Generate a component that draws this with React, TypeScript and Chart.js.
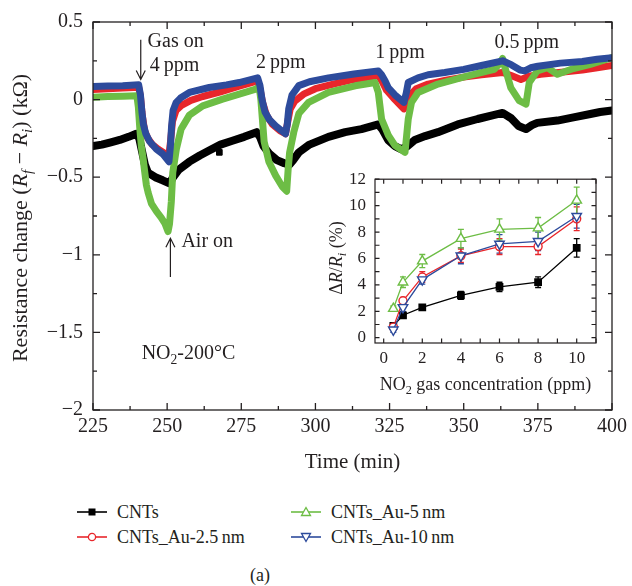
import React, { useEffect, useRef } from "react";
import { Chart, registerables } from "chart.js";

Chart.register(...registerables);

const FONT = '"Liberation Serif", "Times New Roman", Times, serif';
const TEXT = "#231f20";
const BLACK = "#000000";
const RED = "#e8262b";
const GREEN = "#6dbd45";
const BLUE = "#2d4b9c";

// ---------- main panel: time axis and resistance axis ----------
const timeTicks = [225, 250, 275, 300, 325, 350, 375, 400];
const resistanceTicks = [-2, -1.5, -1, -0.5, 0, 0.5];

// [time (min), resistance change (kΩ)]
const cntsSeries: [number, number][] = [
  [225, -0.3], [228, -0.29], [231, -0.275], [234, -0.26], [237, -0.24], [239.6, -0.22],
  [240.6, -0.25], [241.5, -0.33], [242.5, -0.42], [243.5, -0.47], [246, -0.5], [248.5, -0.52],
  [250.8, -0.54], [252, -0.5], [254, -0.45], [257.5, -0.4], [261, -0.36], [264, -0.33],
  [268, -0.29], [272, -0.265], [276, -0.24], [280.2, -0.21], [281.3, -0.24], [282.5, -0.3],
  [284.5, -0.35], [287, -0.39], [289.5, -0.41], [291.2, -0.42], [292.5, -0.39], [294.4, -0.34],
  [298, -0.29], [304.4, -0.24], [310, -0.21], [315.5, -0.19], [321.2, -0.16], [322.5, -0.19],
  [324.5, -0.26], [326.8, -0.3], [329, -0.32], [331, -0.3], [333.5, -0.26], [337, -0.235],
  [341.3, -0.21], [348, -0.16], [354.7, -0.125], [360, -0.1], [363.1, -0.086], [366, -0.12],
  [368.5, -0.17], [371, -0.19], [373, -0.165], [374.8, -0.15], [381.6, -0.135], [387, -0.115],
  [392.7, -0.093], [396, -0.08], [400, -0.07],
];
const cntsStray: [number, number][] = [[267.6, -0.34]];

const au25Series: [number, number][] = [
  [225, 0.065], [230, 0.07], [235, 0.075], [240.4, 0.08], [241, 0.02], [241.6, -0.1],
  [242.4, -0.2], [243.5, -0.25], [245, -0.29], [247, -0.32], [249.5, -0.35], [250.6, -0.36],
  [251.2, -0.26], [251.8, -0.14], [253, -0.07], [255, -0.035], [258, -0.005], [262, 0.02],
  [268, 0.05], [274, 0.085], [280.5, 0.12], [281.3, 0.07], [282.2, -0.02], [283.5, -0.1],
  [285.5, -0.16], [288, -0.2], [289.9, -0.22], [290.6, -0.15], [291.5, -0.06], [293, -0.01],
  [296, 0.035], [300, 0.07], [306, 0.1], [313, 0.13], [321.2, 0.155], [322.4, 0.12],
  [324, 0.06], [326.8, 0.0], [329.8, -0.06], [330.8, -0.03], [332, 0.03], [334, 0.07],
  [338, 0.1], [344, 0.125], [350, 0.145], [356, 0.16], [363.1, 0.175], [366, 0.155],
  [369.3, 0.13], [372, 0.15], [375.9, 0.163], [382, 0.175], [390, 0.19], [395, 0.205],
  [400, 0.22],
];

const au5Series: [number, number][] = [
  [225, 0.015], [230, 0.02], [235, 0.022], [239.8, 0.025], [240.3, -0.05], [240.8, -0.19],
  [241.3, -0.3], [241.9, -0.38], [242.4, -0.46], [243, -0.55], [243.6, -0.6], [244.7, -0.67],
  [246.4, -0.72], [248, -0.76], [249.3, -0.8], [250.3, -0.85], [250.8, -0.8], [251.4, -0.66],
  [251.9, -0.47], [253.1, -0.32], [254.7, -0.19], [257.5, -0.1], [262, -0.04], [268.7, 0.003],
  [274.3, 0.035], [279.9, 0.067], [281, 0.085], [281.6, 0.0], [282.7, -0.27], [284.3, -0.4],
  [286.6, -0.49], [288.8, -0.56], [290.3, -0.59], [290.8, -0.45], [291.3, -0.34], [292.7, -0.21],
  [294.4, -0.09], [297.7, -0.018], [304.4, 0.046], [313.4, 0.089], [320.1, 0.11], [321.2, 0.046],
  [322.3, -0.125], [324.6, -0.23], [326.8, -0.295], [330.2, -0.34], [331.3, -0.125], [332.4, -0.018],
  [334.6, 0.046], [341.3, 0.1], [351.4, 0.153], [360.3, 0.195], [361.8, 0.225], [363.1, 0.265],
  [364, 0.2], [365.9, 0.075], [368.7, -0.007], [371, -0.029], [372.1, 0.11], [374.8, 0.185],
  [378.2, 0.206], [381.6, 0.163], [387, 0.2], [392.7, 0.227], [400, 0.27],
];

const au10Series: [number, number][] = [
  [225, 0.085], [230, 0.088], [235, 0.09], [240.4, 0.095], [241, 0.03], [241.5, -0.08],
  [242, -0.16], [242.8, -0.22], [244.1, -0.27], [246.4, -0.32], [248.5, -0.35], [250.6, -0.4],
  [251.1, -0.3], [251.5, -0.17], [252, -0.07], [253, -0.02], [254.5, 0.01], [257.5, 0.046],
  [264.2, 0.078], [270, 0.095], [274.3, 0.11], [280.5, 0.14], [281.3, 0.09], [282, 0.0],
  [283, -0.08], [284.5, -0.13], [286.6, -0.17], [289.9, -0.22], [290.5, -0.16], [291, -0.06],
  [292.1, 0.03], [294.4, 0.09], [298, 0.115], [304.4, 0.14], [313, 0.165], [321.2, 0.185],
  [322.3, 0.16], [323.5, 0.12], [324.6, 0.075], [326.8, 0.03], [329.8, -0.018], [330.6, 0.04],
  [331.3, 0.11], [334.6, 0.14], [338, 0.16], [343.6, 0.175], [350, 0.195], [356, 0.22],
  [363.1, 0.25], [366, 0.225], [369, 0.19], [370.6, 0.185], [372.6, 0.205], [375, 0.215],
  [382.6, 0.235], [390, 0.245], [395, 0.26], [400, 0.27],
];

// ---------- inset: response vs concentration ----------
const concentrations = [0.5, 1, 2, 4, 6, 8, 10];
const cntsResponse = [0.9, 1.7, 2.3, 3.2, 3.85, 4.2, 6.8];
const cntsError = [0.15, 0.2, 0.2, 0.3, 0.35, 0.4, 0.7];
const au25Response = [0.8, 2.8, 4.6, 6.2, 6.9, 6.9, 9.0];
const au25Error = [0.2, 0.25, 0.4, 0.5, 0.6, 0.6, 0.9];
const au5Response = [2.2, 4.2, 5.8, 7.5, 8.2, 8.3, 10.4];
const au5Error = [0.2, 0.4, 0.5, 0.7, 0.8, 0.8, 1.0];
const au10Response = [0.6, 2.3, 4.4, 6.2, 7.1, 7.3, 9.2];
const au10Error = [0.2, 0.3, 0.35, 0.6, 0.7, 0.7, 0.9];
const insetXTicks = [0, 2, 4, 6, 8, 10];
const insetYTicks = [0, 2, 4, 6, 8, 10, 12];

const seriesLabels = ["CNTs", "CNTs_Au-2.5\u2009nm", "CNTs_Au-5\u2009nm", "CNTs_Au-10\u2009nm"];

// ---------- helpers ----------
type Seg = { t: string; it?: boolean; sub?: boolean };

function segFont(s: Seg, size: number) {
  const sz = s.sub ? size * 0.68 : size;
  return `${s.it ? "italic " : ""}${sz}px ${FONT}`;
}
function richWidth(ctx: CanvasRenderingContext2D, segs: Seg[], size: number) {
  let w = 0;
  for (const s of segs) {
    ctx.font = segFont(s, size);
    w += ctx.measureText(s.t).width;
  }
  return w;
}
function drawRich(ctx: CanvasRenderingContext2D, segs: Seg[], x: number, y: number, size: number, align: string) {
  const w = richWidth(ctx, segs, size);
  let cx = align === "center" ? x - w / 2 : x;
  ctx.textAlign = "left";
  ctx.textBaseline = "alphabetic";
  for (const s of segs) {
    ctx.font = segFont(s, size);
    ctx.fillText(s.t, cx, s.sub ? y + size * 0.22 : y);
    cx += ctx.measureText(s.t).width;
  }
}

const toXY = (s: [number, number][]) => s.map(([x, y]) => ({ x, y }));
const zipXY = (xs: number[], ys: number[]) => xs.map((x, i) => ({ x, y: ys[i] }));
const fmtTick = (v: number) => (v < 0 ? "\u2212" + Math.abs(v) : String(v));

const axisDecor = {
  id: "axisDecor",
  afterDraw(chart: any, _args: any, o: any) {
    const { ctx, chartArea: a } = chart;
    const xs = chart.scales.x;
    const ys = chart.scales.y;
    ctx.save();
    ctx.strokeStyle = TEXT;
    ctx.lineWidth = o.lineWidth;
    ctx.strokeRect(a.left, a.top, a.right - a.left, a.bottom - a.top);
    const isMajor = (arr: number[], v: number) => arr.some((m) => Math.abs(m - v) < 1e-6);
    ctx.beginPath();
    const x0 = Math.ceil(xs.min / o.xMinor - 1e-9) * o.xMinor;
    for (let i = 0; ; i++) {
      const v = x0 + i * o.xMinor;
      if (v > xs.max + 1e-9) break;
      const p = xs.getPixelForValue(v);
      const len = isMajor(o.xMajor, v) ? o.majorLen : o.minorLen;
      ctx.moveTo(p, a.bottom);
      ctx.lineTo(p, a.bottom - len);
      ctx.moveTo(p, a.top);
      ctx.lineTo(p, a.top + len);
    }
    const y0 = Math.ceil(ys.min / o.yMinor - 1e-9) * o.yMinor;
    for (let i = 0; ; i++) {
      const v = y0 + i * o.yMinor;
      if (v > ys.max + 1e-9) break;
      const p = ys.getPixelForValue(v);
      const len = isMajor(o.yMajor, v) ? o.majorLen : o.minorLen;
      ctx.moveTo(a.left, p);
      ctx.lineTo(a.left + len, p);
      ctx.moveTo(a.right, p);
      ctx.lineTo(a.right - len, p);
    }
    ctx.stroke();

    ctx.fillStyle = TEXT;
    for (const lab of o.labels || []) {
      let x = lab.x;
      let y = lab.y;
      if (lab.data) {
        x = xs.getPixelForValue(lab.x);
        y = ys.getPixelForValue(lab.y);
      } else if (lab.rel) {
        x = lab.rel === "xtitle" ? (a.left + a.right) / 2 : lab.x;
        y = lab.rel === "xtitle" ? a.bottom + lab.dy : lab.y;
      }
      if (lab.rot) {
        ctx.save();
        ctx.translate(x, y);
        ctx.rotate(-Math.PI / 2);
        drawRich(ctx, lab.segs, 0, 0, lab.size, "center");
        ctx.restore();
      } else {
        drawRich(ctx, lab.segs, x, y, lab.size, lab.align || "left");
      }
    }
    for (const ar of o.arrows || []) {
      const x1 = xs.getPixelForValue(ar.x);
      const yA = ys.getPixelForValue(ar.from);
      const yB = ys.getPixelForValue(ar.to);
      const dir = yB > yA ? 1 : -1;
      ctx.beginPath();
      ctx.lineWidth = 1.2;
      ctx.moveTo(x1, yA);
      ctx.lineTo(x1, yB);
      ctx.moveTo(x1 - 4.5, yB - dir * 9);
      ctx.lineTo(x1, yB);
      ctx.lineTo(x1 + 4.5, yB - dir * 9);
      ctx.stroke();
    }
    ctx.restore();
  },
};

const errorBars = {
  id: "errorBars",
  beforeDatasetsDraw(chart: any) {
    const { ctx } = chart;
    const xs = chart.scales.x;
    const ys = chart.scales.y;
    chart.data.datasets.forEach((ds: any) => {
      if (!ds.errors) return;
      ctx.save();
      ctx.strokeStyle = ds.borderColor;
      ctx.lineWidth = 1.3;
      ds.data.forEach((pt: any, i: number) => {
        const e = ds.errors[i];
        const px = xs.getPixelForValue(pt.x);
        const top = ys.getPixelForValue(pt.y + e);
        const bot = ys.getPixelForValue(pt.y - e);
        ctx.beginPath();
        ctx.moveTo(px, top);
        ctx.lineTo(px, bot);
        ctx.moveTo(px - 3, top);
        ctx.lineTo(px + 3, top);
        ctx.moveTo(px - 3, bot);
        ctx.lineTo(px + 3, bot);
        ctx.stroke();
      });
      ctx.restore();
    });
  },
};

function MainChart() {
  const ref = useRef<HTMLCanvasElement | null>(null);
  useEffect(() => {
    if (!ref.current) return;
    const band = (data: [number, number][], color: string, order: number, label: string, width: number) => ({
      label,
      data: toXY(data),
      borderColor: color,
      backgroundColor: color,
      borderWidth: width,
      pointRadius: 0,
      borderJoinStyle: "round" as const,
      borderCapStyle: "round" as const,
      tension: 0,
      order,
    });
    const chart = new Chart(ref.current, {
      type: "line",
      data: {
        datasets: [
          band(au10Series, BLUE, 0, seriesLabels[3], 7),
          band(au5Series, GREEN, 1, seriesLabels[2], 7),
          band(au25Series, RED, 2, seriesLabels[1], 7),
          band(cntsSeries, BLACK, 3, seriesLabels[0], 8),
          {
            label: "stray",
            data: toXY(cntsStray),
            showLine: false,
            pointStyle: "rect",
            pointRadius: 4,
            pointBackgroundColor: BLACK,
            pointBorderColor: BLACK,
            borderColor: BLACK,
            order: 4,
          } as any,
        ],
      },
      options: {
        animation: false,
        responsive: false,
        devicePixelRatio: 1,
        layout: { padding: { top: 19, right: 17, left: 0, bottom: 0 } },
        plugins: {
          legend: { display: false },
          tooltip: { enabled: false },
          axisDecor: {
            lineWidth: 1.3,
            xMajor: timeTicks,
            xMinor: 12.5,
            yMajor: resistanceTicks,
            yMinor: 0.25,
            majorLen: 7,
            minorLen: 4,
            labels: [
              { data: true, x: 243.4, y: 0.34, size: 20, segs: [{ t: "Gas on" }] },
              { data: true, x: 244.1, y: 0.187, size: 20, segs: [{ t: "4\u2009ppm" }] },
              { data: true, x: 280, y: 0.206, size: 20, segs: [{ t: "2\u2009ppm" }] },
              { data: true, x: 320.2, y: 0.27, size: 20, segs: [{ t: "1\u2009ppm" }] },
              { data: true, x: 360.4, y: 0.33, size: 20, segs: [{ t: "0.5\u2009ppm" }] },
              { data: true, x: 254.8, y: -0.95, size: 20, segs: [{ t: "Air on" }] },
              { data: true, x: 241.4, y: -1.674, size: 20, segs: [{ t: "NO" }, { t: "2", sub: true }, { t: "-200\u00b0C" }] },
              { rel: "xtitle", dy: 58, size: 21, align: "center", segs: [{ t: "Time (min)" }] },
              {
                x: 27,
                y: 218,
                rot: true,
                size: 22,
                segs: [
                  { t: "Resistance change (" },
                  { t: "R", it: true },
                  { t: "f", it: true, sub: true },
                  { t: " \u2212 " },
                  { t: "R", it: true },
                  { t: "i", it: true, sub: true },
                  { t: ") (k\u03a9)" },
                ],
              },
            ],
            arrows: [
              { x: 241.1, from: 0.385, to: 0.13 },
              { x: 251.1, from: -1.143, to: -0.894 },
            ],
          },
        } as any,
        scales: {
          x: {
            type: "linear",
            min: 225,
            max: 400,
            afterBuildTicks: (s: any) => {
              s.ticks = timeTicks.map((value) => ({ value }));
            },
            afterFit: (s: any) => {
              s.height = 70;
            },
            grid: { display: false, drawTicks: false },
            border: { display: false },
            ticks: { font: { family: FONT, size: 20 }, color: TEXT, padding: 5, maxRotation: 0, autoSkip: false },
          },
          y: {
            type: "linear",
            min: -2,
            max: 0.5,
            afterBuildTicks: (s: any) => {
              s.ticks = resistanceTicks.map((value) => ({ value }));
            },
            afterFit: (s: any) => {
              s.width = 93;
            },
            grid: { display: false, drawTicks: false },
            border: { display: false },
            ticks: {
              font: { family: FONT, size: 20 },
              color: TEXT,
              padding: 10,
              autoSkip: false,
              callback: (v: any) => fmtTick(Number(v)),
            },
          },
        },
      },
      plugins: [axisDecor],
    });
    return () => chart.destroy();
  }, []);
  return <canvas ref={ref} width={632} height={480} style={{ position: "absolute", left: 0, top: 0, width: 632, height: 480 }} />;
}

function InsetChart() {
  const ref = useRef<HTMLCanvasElement | null>(null);
  useEffect(() => {
    if (!ref.current) return;
    const series = (label: string, ys: number[], errs: number[], color: string, style: string, rot: number, r: number, fill: string, order: number) => ({
      label,
      data: zipXY(concentrations, ys),
      errors: errs,
      borderColor: color,
      backgroundColor: color,
      borderWidth: 1.3,
      pointStyle: style,
      pointRotation: rot,
      pointRadius: r,
      pointBorderWidth: 1.4,
      pointBackgroundColor: fill,
      pointBorderColor: color,
      tension: 0,
      order,
    });
    const chart = new Chart(ref.current, {
      type: "line",
      data: {
        datasets: [
          series(seriesLabels[3], au10Response, au10Error, BLUE, "triangle", 180, 5.5, "#ffffff", 0),
          series(seriesLabels[1], au25Response, au25Error, RED, "circle", 0, 4, "#ffffff", 1),
          series(seriesLabels[2], au5Response, au5Error, GREEN, "triangle", 0, 5.5, "#ffffff", 2),
          series(seriesLabels[0], cntsResponse, cntsError, BLACK, "rect", 0, 4.5, BLACK, 3),
        ] as any,
      },
      options: {
        animation: false,
        responsive: false,
        devicePixelRatio: 1,
        layout: { padding: { top: 13, right: 14, left: 0, bottom: 0 } },
        plugins: {
          legend: { display: false },
          tooltip: { enabled: false },
          axisDecor: {
            lineWidth: 1.2,
            xMajor: insetXTicks,
            xMinor: 1,
            yMajor: insetYTicks,
            yMinor: 1,
            majorLen: 4.5,
            minorLen: 4.5,
            labels: [
              { rel: "xtitle", dy: 47, size: 18, align: "center", segs: [{ t: "NO" }, { t: "2", sub: true }, { t: " gas concentration (ppm)" }] },
              {
                x: 22,
                y: 98,
                rot: true,
                size: 18,
                segs: [{ t: "\u0394" }, { t: "R", it: true }, { t: "/" }, { t: "R", it: true }, { t: "i", it: true, sub: true }, { t: " (%)" }],
              },
            ],
          },
        } as any,
        scales: {
          x: {
            type: "linear",
            min: -0.45,
            max: 11,
            afterBuildTicks: (s: any) => {
              s.ticks = insetXTicks.map((value) => ({ value }));
            },
            afterFit: (s: any) => {
              s.height = 57;
            },
            grid: { display: false, drawTicks: false },
            border: { display: false },
            ticks: { font: { family: FONT, size: 17 }, color: TEXT, padding: 5, maxRotation: 0, autoSkip: false },
          },
          y: {
            type: "linear",
            min: -0.4,
            max: 12,
            afterBuildTicks: (s: any) => {
              s.ticks = insetYTicks.map((value) => ({ value }));
            },
            afterFit: (s: any) => {
              s.width = 55;
            },
            grid: { display: false, drawTicks: false },
            border: { display: false },
            ticks: { font: { family: FONT, size: 17 }, color: TEXT, padding: 9, autoSkip: false },
          },
        },
      },
      plugins: [axisDecor, errorBars],
    });
    return () => chart.destroy();
  }, []);
  return <canvas ref={ref} width={290} height={240} style={{ position: "absolute", left: 320, top: 160, width: 290, height: 240 }} />;
}

function Marker({ kind, color }: { kind: string; color: string }) {
  let shape: React.ReactNode = null;
  if (kind === "rect") shape = <rect x={11.5} y={2.5} width={7} height={7} fill={color} />;
  if (kind === "circle") shape = <circle cx={15} cy={6} r={3.6} fill="#fff" stroke={color} strokeWidth={1.3} />;
  if (kind === "up") shape = <polygon points="15,1.5 19.5,9.5 10.5,9.5" fill="#fff" stroke={color} strokeWidth={1.3} />;
  if (kind === "down") shape = <polygon points="10.5,2.5 19.5,2.5 15,10.5" fill="#fff" stroke={color} strokeWidth={1.3} />;
  return (
    <svg width={30} height={12} style={{ position: "absolute", left: 0, top: 0 }}>
      <line x1={0} y1={6} x2={30} y2={6} stroke={color} strokeWidth={1.6} />
      {shape}
    </svg>
  );
}

const legendItems = [
  { label: seriesLabels[0], color: BLACK, kind: "rect", left: 77, cy: 512 },
  { label: seriesLabels[1], color: RED, kind: "circle", left: 77, cy: 537 },
  { label: seriesLabels[2], color: GREEN, kind: "up", left: 291, cy: 512 },
  { label: seriesLabels[3], color: BLUE, kind: "down", left: 291, cy: 537 },
];

export default function App() {
  return (
    <div style={{ position: "absolute", left: 0, top: 0, width: 632, height: 586, background: "#fff", fontFamily: FONT, color: TEXT }}>
      <MainChart />
      <InsetChart />
      {legendItems.map((it) => (
        <div key={it.label} style={{ position: "absolute", left: it.left, top: it.cy - 10, height: 20, width: 240 }}>
          <div style={{ position: "absolute", left: 0, top: 4, width: 30, height: 12 }}>
            <Marker kind={it.kind} color={it.color} />
          </div>
          <div style={{ position: "absolute", left: 40, top: 0, fontSize: 18, lineHeight: "20px", whiteSpace: "nowrap" }}>{it.label}</div>
        </div>
      ))}
      <div style={{ position: "absolute", left: 0, width: 520, top: 565, textAlign: "center", fontSize: 18, lineHeight: "20px" }}>(a)</div>
    </div>
  );
}
